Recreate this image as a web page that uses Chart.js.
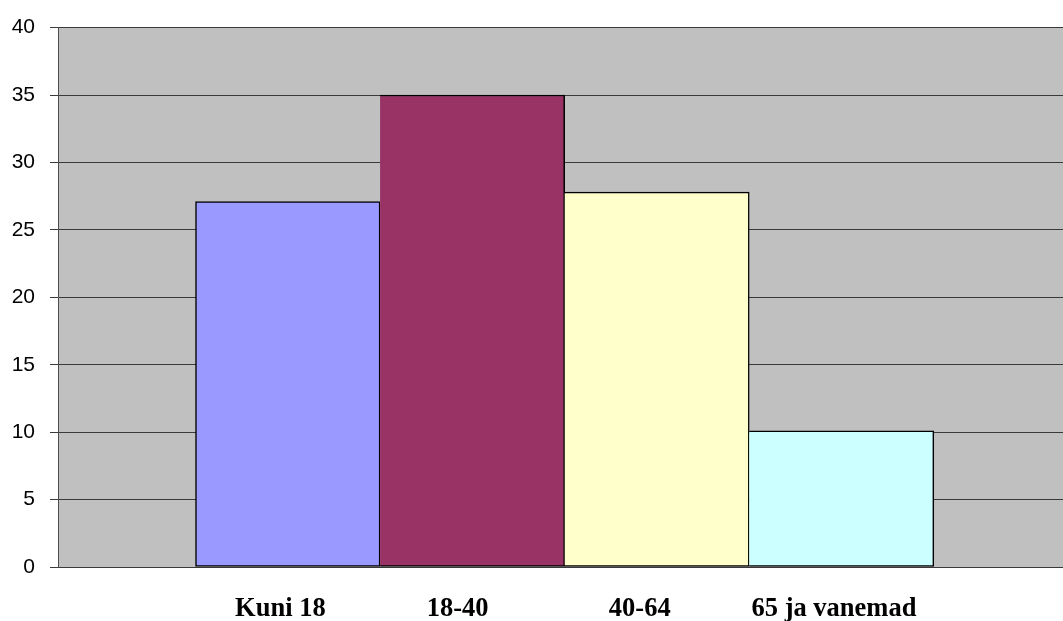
<!DOCTYPE html>
<html>
<head>
<meta charset="utf-8">
<title>Vanuserühmad</title>
<script src="https://cdn.jsdelivr.net/npm/chart.js@4.4.1/dist/chart.umd.min.js"></script>
<style>
  html, body { margin: 0; padding: 0; background: #ffffff; overflow: hidden; }
  #wrap { width: 1063px; height: 621px; }
</style>
</head>
<body>
<div id="wrap"><canvas id="c" width="1063" height="621"></canvas></div>
<script>
// Age groups and their shares (%)
const ageGroups = ['Kuni 18', '18-40', '40-64', '65 ja vanemad'];
const shares = [27.1, 35.0, 27.8, 10.1];
const yTicks = [0, 5, 10, 15, 20, 25, 30, 35, 40];

// Styling
const barColors = ['#9999FF', '#993366', '#FFFFCC', '#CCFFFF'];
const labelShift = [-0.040, -0.080, -0.093, -0.041]; // label nudge, in bar widths
const xMin = -1.245, xMax = 4.2;

const plotFill = {
  id: 'plotFill',
  beforeDraw(chart) {
    const { ctx, chartArea: a } = chart;
    ctx.save();
    ctx.fillStyle = '#C0C0C0';
    ctx.fillRect(a.left, a.top, a.right - a.left, a.bottom - a.top);
    ctx.restore();
  }
};

new Chart(document.getElementById('c'), {
  type: 'bar',
  data: {
    datasets: [{
      data: shares.map((v, i) => ({ x: i, y: v })),
      xAxisID: 'x',
      backgroundColor: barColors,
      borderColor: '#000000',
      borderWidth: 1.5,
      borderSkipped: ctx => (ctx.dataIndex === 0 ? false : 'left'),
      barPercentage: 1,
      categoryPercentage: 1
    }]
  },
  options: {
    responsive: false,
    animation: false,
    devicePixelRatio: 1,
    layout: { padding: { top: 25, right: 0, bottom: 0, left: 0 } },
    plugins: { legend: { display: false }, tooltip: { enabled: false } },
    scales: {
      // value axis for the bars: only the left edge tick mark is shown
      x: {
        type: 'linear',
        position: 'bottom',
        min: xMin,
        max: xMax,
        offset: false,
        afterBuildTicks: s => { s.ticks = [{ value: xMin }]; },
        afterFit: s => { s.height = 0; },
        ticks: { display: false },
        grid: { drawOnChartArea: false, tickLength: 7, lineWidth: 1, color: '#4d4d4d' },
        border: { display: false }
      },
      // age group names under the bars
      xLabels: {
        type: 'linear',
        position: 'bottom',
        min: xMin,
        max: xMax,
        offset: false,
        afterBuildTicks: s => {
          s.ticks = ageGroups.map((_, i) => ({ value: i + labelShift[i] }));
        },
        afterFit: s => { s.height = 54; },
        ticks: {
          autoSkip: false,
          maxRotation: 0,
          padding: 26,
          color: '#000000',
          font: { family: 'Liberation Serif', size: 26.5, weight: 'bold' },
          callback: (v, i) => ageGroups[i]
        },
        grid: { display: false, drawTicks: false },
        border: { display: false }
      },
      y: {
        min: 0,
        max: 40,
        afterBuildTicks: s => { s.ticks = yTicks.map(v => ({ value: v })); },
        afterFit: s => { s.width = 58; },
        ticks: {
          padding: 15,
          color: '#000000',
          font: { family: 'Liberation Sans', size: 21 }
        },
        grid: { color: '#3a3a3a', lineWidth: 1, tickLength: 8 },
        border: { display: true, color: '#4d4d4d', width: 1 }
      }
    }
  },
  plugins: [plotFill]
});
</script>
</body>
</html>
